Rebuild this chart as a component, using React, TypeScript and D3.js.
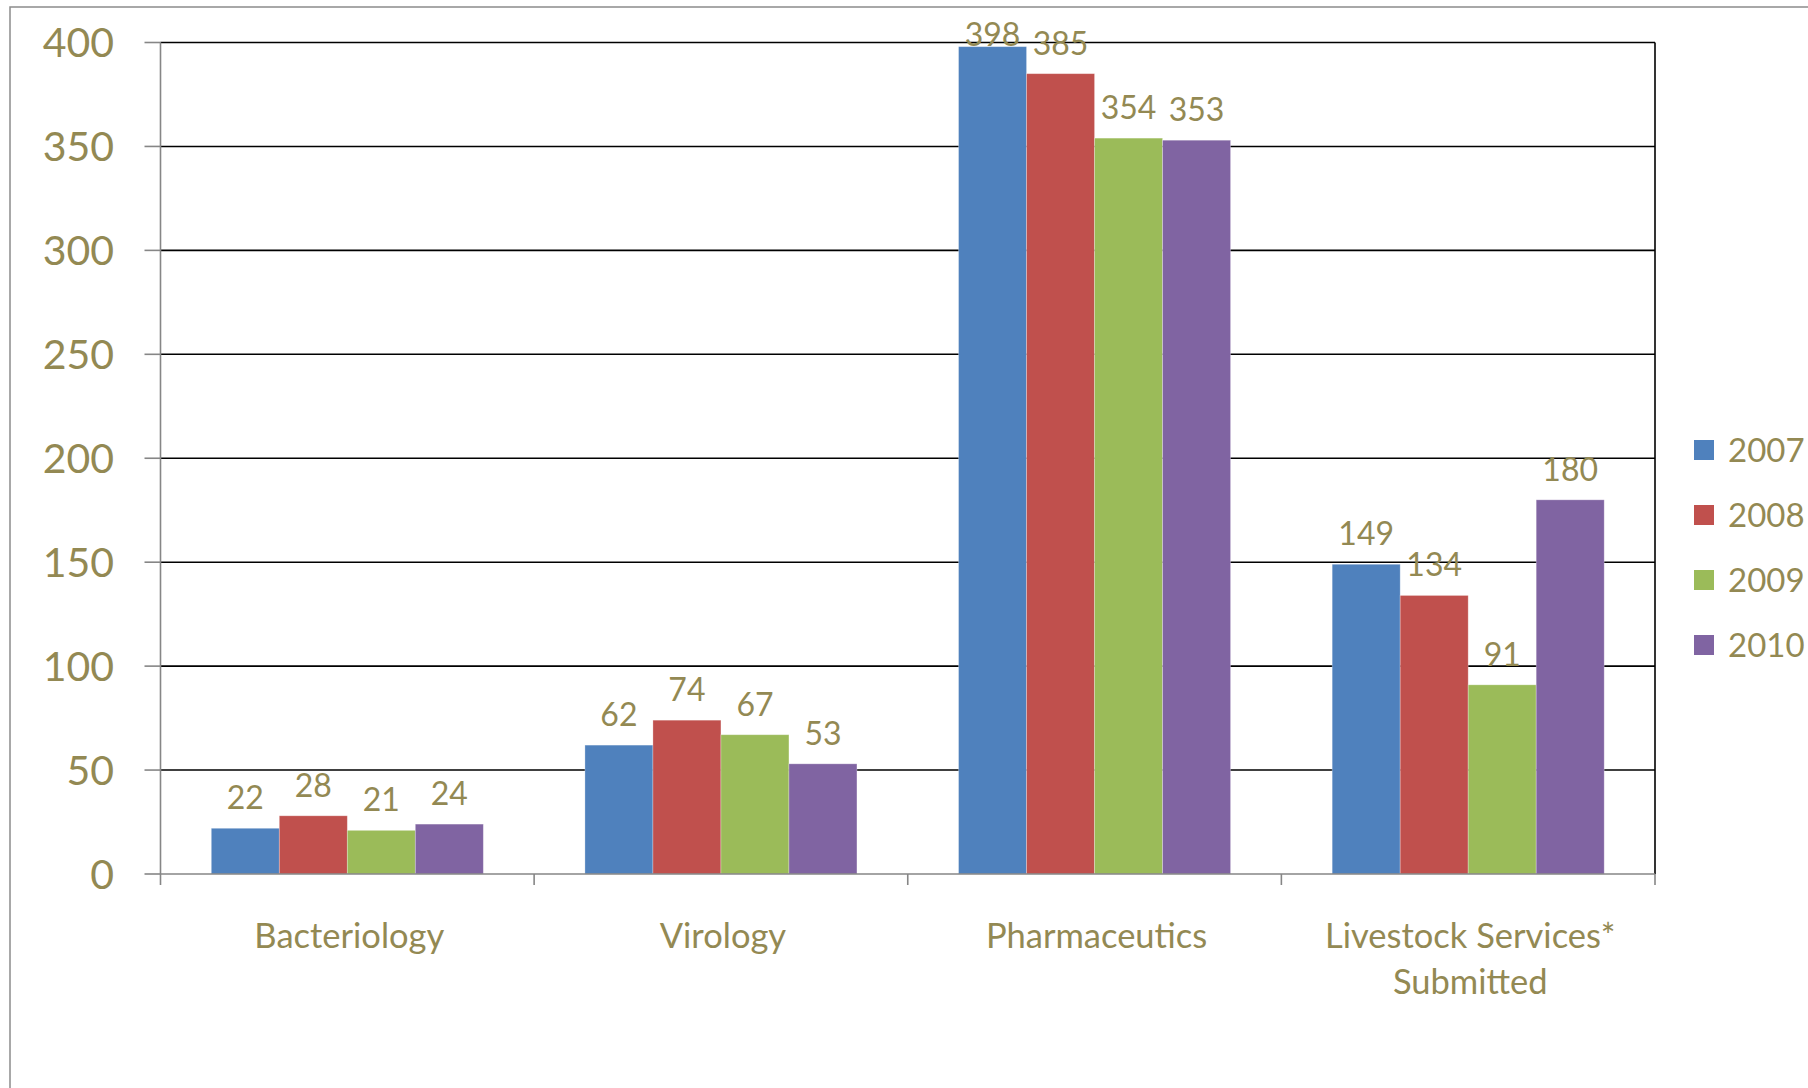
import { useMemo } from 'react';
import * as d3 from 'd3';

const categories = ['Bacteriology', 'Virology', 'Pharmaceutics', 'Livestock Services*\nSubmitted'];
const years = ['2007', '2008', '2009', '2010'];
const values2007 = [22, 62, 398, 149];
const values2008 = [28, 74, 385, 134];
const values2009 = [21, 67, 354, 91];
const values2010 = [24, 53, 353, 180];
const yTicks = [0, 50, 100, 150, 200, 250, 300, 350, 400];

const seriesValues = [values2007, values2008, values2009, values2010];
const colors = ['#4F81BD', '#C0504D', '#9BBB59', '#8064A2'];
const textColor = '#938953';
const font = 'Lato, "Open Sans", sans-serif';

const W = 1808;
const H = 1088;
const plot = { left: 160.5, right: 1655, top: 42.5, bottom: 874 };

export default function App() {
  const x = useMemo(
    () => d3.scaleBand<string>().domain(categories).range([plot.left, plot.right]).paddingInner(0).paddingOuter(0),
    []
  );
  const xInner = useMemo(
    () => d3.scaleBand<string>().domain(years).range([0, x.bandwidth()]).paddingInner(0).paddingOuter(0.747),
    [x]
  );
  const y = useMemo(() => d3.scaleLinear().domain([0, 400]).range([plot.bottom, plot.top]), []);

  const boundaries = [...categories.map((c) => x(c) as number), plot.right];

  return (
    <svg
      width={W}
      height={H}
      style={{ position: 'absolute', left: 0, top: 0, background: '#fff' }}
      fontFamily={font}
    >
      {/* outer chart frame, runs off the right and bottom edges */}
      <rect x={10} y={7} width={W} height={H} fill="#fff" stroke="#8c8c8c" strokeWidth={1.5} />

      {/* gridlines */}
      {yTicks.slice(1).map((t) => (
        <line key={t} x1={plot.left} x2={plot.right} y1={y(t)} y2={y(t)} stroke="#000" strokeWidth={1.6} />
      ))}
      <line x1={plot.right} x2={plot.right} y1={plot.top} y2={plot.bottom} stroke="#000" strokeWidth={1.6} />

      {/* bars */}
      {categories.map((c, ci) => (
        <g key={c} transform={`translate(${x(c)},0)`}>
          {years.map((yr, si) => {
            const v = seriesValues[si][ci];
            return (
              <rect
                key={yr}
                x={xInner(yr)}
                y={y(v)}
                width={xInner.bandwidth()}
                height={plot.bottom - y(v)}
                fill={colors[si]}
                stroke="rgba(255,255,255,0.35)"
                strokeWidth={0.8}
              />
            );
          })}
        </g>
      ))}

      {/* data labels */}
      {categories.map((c, ci) =>
        years.map((yr, si) => {
          const v = seriesValues[si][ci];
          const cx = (x(c) as number) + (xInner(yr) as number) + xInner.bandwidth() / 2;
          const base = Math.max(y(v) - 19, 46);
          return (
            <text key={`${c}-${yr}`} x={cx} y={base} textAnchor="middle" fontSize={32} fill={textColor}>
              {v}
            </text>
          );
        })
      )}

      {/* axes */}
      <line x1={plot.left} x2={plot.left} y1={plot.top} y2={plot.bottom} stroke="#868686" strokeWidth={1.6} />
      <line x1={plot.left} x2={plot.right} y1={plot.bottom} y2={plot.bottom} stroke="#868686" strokeWidth={1.6} />
      {yTicks.map((t) => (
        <g key={t}>
          <line x1={plot.left - 16} x2={plot.left} y1={y(t)} y2={y(t)} stroke="#868686" strokeWidth={1.6} />
          <text x={114} y={y(t)} dy="0.36em" textAnchor="end" fontSize={41} fill={textColor}>
            {t}
          </text>
        </g>
      ))}
      {boundaries.map((bx, i) => (
        <line key={i} x1={bx} x2={bx} y1={plot.bottom} y2={plot.bottom + 11} stroke="#868686" strokeWidth={1.6} />
      ))}
      {categories.map((c) => {
        const cx = (x(c) as number) + x.bandwidth() / 2 + 2;
        return (
          <text key={c} x={cx} y={948} textAnchor="middle" fontSize={34.5} fill={textColor}>
            {c.split('\n').map((line, li) => (
              <tspan key={li} x={cx} dy={li === 0 ? 0 : 46}>
                {line}
              </tspan>
            ))}
          </text>
        );
      })}

      {/* legend */}
      {years.map((yr, i) => (
        <g key={yr} transform={`translate(1694,${450 + i * 65})`}>
          <rect x={0} y={-10} width={20} height={20} fill={colors[i]} />
          <text x={34} y={0} dy="0.36em" fontSize={33} fill={textColor}>
            {yr}
          </text>
        </g>
      ))}
    </svg>
  );
}
